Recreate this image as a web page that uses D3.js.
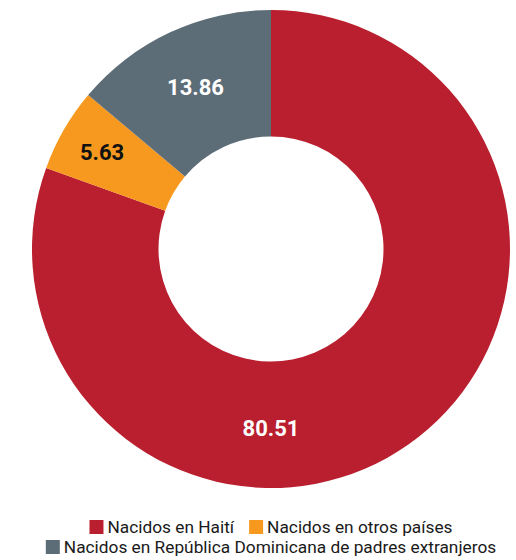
<!DOCTYPE html>
<html>
<head>
<meta charset="utf-8">
<script src="https://cdn.jsdelivr.net/npm/d3@7"></script>
<style>
  body { margin: 0; background: #fff; }
  text { font-family: Roboto, "Noto Sans", sans-serif; }
</style>
</head>
<body>
<svg width="516" height="560"></svg>
<script>
// data
const categories = ['Nacidos en Haití', 'Nacidos en otros países', 'Nacidos en República Dominicana de padres extranjeros'];
const values = [80.51, 5.63, 13.86];
const colors = ['#B91F2E', '#F7991F', '#5D6D78'];
const labelColors = ['#ffffff', '#111111', '#ffffff'];

const svg = d3.select('svg');
const cx = 271, cy = 249;
const outerR = 239, innerR = 112.5;
const labelR = 179;

const pie = d3.pie().sort(null).value(d => d.value);
const arc = d3.arc().innerRadius(innerR).outerRadius(outerR);

const data = categories.map((c, i) => ({ name: c, value: values[i], color: colors[i], lc: labelColors[i] }));
const slices = pie(data);

const g = svg.append('g').attr('transform', `translate(${cx},${cy})`);

g.selectAll('path')
  .data(slices)
  .enter()
  .append('path')
    .attr('d', arc)
    .attr('fill', d => d.data.color);

// big slice gets its label at the bottom of the ring, the small ones at their middle
const span = d => d.endAngle - d.startAngle;
const labelAngle = d => span(d) > Math.PI ? Math.PI : (d.startAngle + d.endAngle) / 2;
// thin slices push the label a bit further out
const labelRadius = d => span(d) < 0.5 ? labelR + 16 : labelR;

g.selectAll('text.val')
  .data(slices)
  .enter()
  .append('text')
    .attr('class', 'val')
    .attr('x', d => labelRadius(d) * Math.sin(labelAngle(d)))
    .attr('y', d => -labelRadius(d) * Math.cos(labelAngle(d)))
    .attr('text-anchor', 'middle')
    .attr('dy', '0.36em')
    .style('font-size', '22px')
    .style('font-weight', 'bold')
    .attr('fill', d => d.data.lc)
    .text(d => d.data.value.toFixed(2));

// legend, two rows
const rows = [[0, 1], [2]];
const rowY = [527, 547];
const sw = 14;

rows.forEach((row, r) => {
  const lg = svg.append('g');
  let x = 0;
  row.forEach(i => {
    const item = lg.append('g').attr('transform', `translate(${x},0)`);
    item.append('rect')
      .attr('x', 0).attr('y', -sw / 2)
      .attr('width', sw).attr('height', sw)
      .attr('fill', colors[i]);
    const t = item.append('text')
      .attr('x', sw + 4)
      .attr('dy', '0.36em')
      .style('font-size', '17.3px')
      .attr('fill', '#1a1a1a')
      .text(categories[i]);
    x += sw + 4 + t.node().getComputedTextLength() + 15;
  });
  const w = x - 15;
  lg.attr('transform', `translate(${cx - w / 2},${rowY[r]})`);
});
</script>
</body>
</html>
